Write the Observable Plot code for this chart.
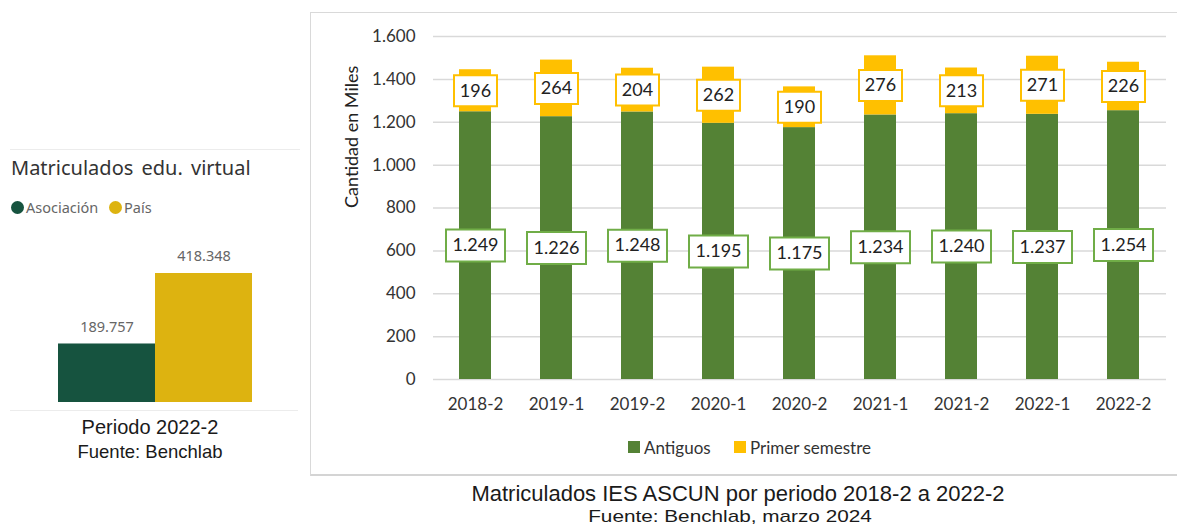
<!DOCTYPE html>
<html>
<head>
<meta charset="utf-8">
<script src="https://cdn.jsdelivr.net/npm/d3@7"></script>
<script src="https://cdn.jsdelivr.net/npm/@observablehq/plot@0.6"></script>
<style>
  html, body { margin: 0; padding: 0; background: #fff; overflow: hidden; width: 1177px; height: 527px; }
  body { position: relative; }
  .abs { position: absolute; }
  .ctr { position: absolute; transform: translate(-50%, -50%); white-space: nowrap; }
  .lft { position: absolute; transform: translate(0, -50%); white-space: nowrap; }
</style>
</head>
<body>
<div id="root"></div>
<script>
// ---------- data ----------
const periodos = ["2018-2", "2019-1", "2019-2", "2020-1", "2020-2", "2021-1", "2021-2", "2022-1", "2022-2"];
const antiguos = [1249, 1226, 1248, 1195, 1175, 1234, 1240, 1237, 1254];
const primerSemestre = [196, 264, 204, 262, 190, 276, 213, 271, 226];
const series = ["Antiguos", "Primer semestre"];
const yTicks = [0, 200, 400, 600, 800, 1000, 1200, 1400, 1600];
const yTitle = "Cantidad en Miles";

const virtualGrupos = ["Asociación", "País"];
const virtualValores = [189757, 418348];

// ---------- helpers ----------
const es = d3.formatLocale({decimal: ",", thousands: ".", grouping: [3], currency: ["$", ""]});
const fmt = es.format(",d");
const root = document.getElementById("root");
function el(tag, cls, style, text) {
  const e = document.createElement(tag);
  if (cls) e.className = cls;
  Object.assign(e.style, style);
  if (text != null) e.textContent = text;
  root.appendChild(e);
  return e;
}
const boxSymbol = (w, h) => ({draw(ctx) { ctx.rect(-w / 2, -h / 2, w, h); }});

// ---------- right chart ----------
const rows = [];
const labA = [];
const labP = [];
periodos.forEach((p, i) => {
  rows.push({periodo: p, serie: series[0], valor: antiguos[i]});
  rows.push({periodo: p, serie: series[1], valor: primerSemestre[i]});
  labA.push({periodo: p, valor: antiguos[i], mid: antiguos[i] / 2});
  labP.push({periodo: p, valor: primerSemestre[i], mid: antiguos[i] + primerSemestre[i] / 2});
});

// frame
el("div", "abs", {left: "310px", top: "12px", width: "900px", height: "464px",
  border: "1.5px solid #d9d9d9", borderBottom: "2.5px solid #d4d4d4", boxSizing: "border-box"});

const right = Plot.plot({
  width: 867,
  height: 420,
  marginLeft: 123,
  marginRight: 11,
  marginTop: 24,
  marginBottom: 53,
  style: {fontFamily: "Lato, sans-serif", color: "#333", background: "transparent", overflow: "visible"},
  x: {domain: periodos, paddingInner: 0.6, paddingOuter: 0.3, label: null},
  y: {domain: [0, 1600], label: null},
  color: {domain: series, range: ["#548235", "#FFC000"]},
  marks: [
    Plot.gridY(yTicks, {stroke: "#d9d9d9", strokeOpacity: 1, strokeWidth: 1.5}),
    Plot.axisY(yTicks, {tickSize: 0, tickPadding: 18, tickFormat: fmt, fontSize: 17, label: null, fill: "#333"}),
    Plot.axisX({tickSize: 0, tickPadding: 18, fontSize: 17, label: null, fill: "#333"}),
    Plot.text([yTitle], {text: d => d, frameAnchor: "left", rotate: -90, dx: -81, fontSize: 18, fill: "#222"}),
    Plot.barY(rows, {x: "periodo", y: "valor", fill: "serie"}),
    Plot.dot(labA, {x: "periodo", y: "mid", symbol: boxSymbol(59, 32), fill: "white", stroke: "#70AD47", strokeWidth: 2}),
    Plot.text(labA, {x: "periodo", y: "mid", text: d => fmt(d.valor), fontSize: 18, fill: "#222"}),
    Plot.dot(labP, {x: "periodo", y: "mid", symbol: boxSymbol(43, 31), fill: "white", stroke: "#FFC000", strokeWidth: 2}),
    Plot.text(labP, {x: "periodo", y: "mid", text: d => fmt(d.valor), fontSize: 18, fill: "#222"})
  ]
});
Object.assign(right.style, {position: "absolute", left: "310px", top: "12px"});
root.appendChild(right);

// legend (right)
const legendColors = ["#548235", "#FFC000"];
el("div", "abs", {left: "628px", top: "441px", width: "12px", height: "12px", background: legendColors[0]});
el("div", "lft", {left: "644px", top: "447px", font: "17px Lato, sans-serif", color: "#333"}, series[0]);
el("div", "abs", {left: "734px", top: "441px", width: "12px", height: "12px", background: legendColors[1]});
el("div", "lft", {left: "750px", top: "447px", font: "17px Lato, sans-serif", color: "#333"}, series[1]);

// captions (right)
el("div", "ctr", {left: "738px", top: "494px", font: "22px 'Liberation Sans', Arial, sans-serif", color: "#1a1a1a"},
  "Matriculados IES ASCUN por periodo 2018-2 a 2022-2");
el("div", "ctr", {left: "730px", top: "517px", font: "17px 'Liberation Sans', Arial, sans-serif", color: "#1a1a1a",
  transform: "translate(-50%, -50%) scaleX(1.22)"},
  "Fuente: Benchlab, marzo 2024");

// ---------- left chart ----------
el("div", "abs", {left: "10px", top: "149px", width: "290px", height: "1px", background: "#ececec"});
el("div", "lft", {left: "11px", top: "167px", font: "20px 'Noto Sans', 'Open Sans', sans-serif", color: "#333", wordSpacing: "3px"},
  "Matriculados edu. virtual");
const vColors = ["#16533F", "#DDB310"];
el("div", "abs", {left: "11px", top: "201px", width: "13px", height: "13px", borderRadius: "50%", background: vColors[0]});
el("div", "lft", {left: "26px", top: "207px", font: "14.5px 'Noto Sans', 'Open Sans', sans-serif", color: "#666"}, virtualGrupos[0]);
el("div", "abs", {left: "109px", top: "201px", width: "13px", height: "13px", borderRadius: "50%", background: vColors[1]});
el("div", "lft", {left: "124px", top: "207px", font: "14.5px 'Noto Sans', 'Open Sans', sans-serif", color: "#666"}, virtualGrupos[1]);

const vRows = virtualGrupos.map((g, i) => ({grupo: g, valor: virtualValores[i]}));
const left = Plot.plot({
  width: 300,
  height: 175,
  marginLeft: 58,
  marginRight: 48,
  marginTop: 33,
  marginBottom: 13,
  style: {fontFamily: "'Noto Sans', sans-serif", background: "transparent", overflow: "visible"},
  x: {domain: virtualGrupos, padding: 0, axis: null},
  y: {domain: [0, d3.max(virtualValores)], axis: null},
  color: {domain: virtualGrupos, range: vColors},
  marks: [
    Plot.barY(vRows, {x: "grupo", y: "valor", fill: "grupo"}),
    Plot.text(vRows, {x: "grupo", y: "valor", text: d => fmt(d.valor), dy: -17, fontSize: 14.5, fill: "#666"})
  ]
});
Object.assign(left.style, {position: "absolute", left: "0px", top: "240px"});
root.appendChild(left);

el("div", "abs", {left: "10px", top: "410px", width: "288px", height: "1px", background: "#ececec"});
el("div", "ctr", {left: "150px", top: "427px", font: "20px 'Liberation Sans', Arial, sans-serif", color: "#1a1a1a"}, "Periodo 2022-2");
el("div", "ctr", {left: "150px", top: "452px", font: "18.5px 'Liberation Sans', Arial, sans-serif", color: "#1a1a1a"}, "Fuente: Benchlab");
</script>
</body>
</html>
